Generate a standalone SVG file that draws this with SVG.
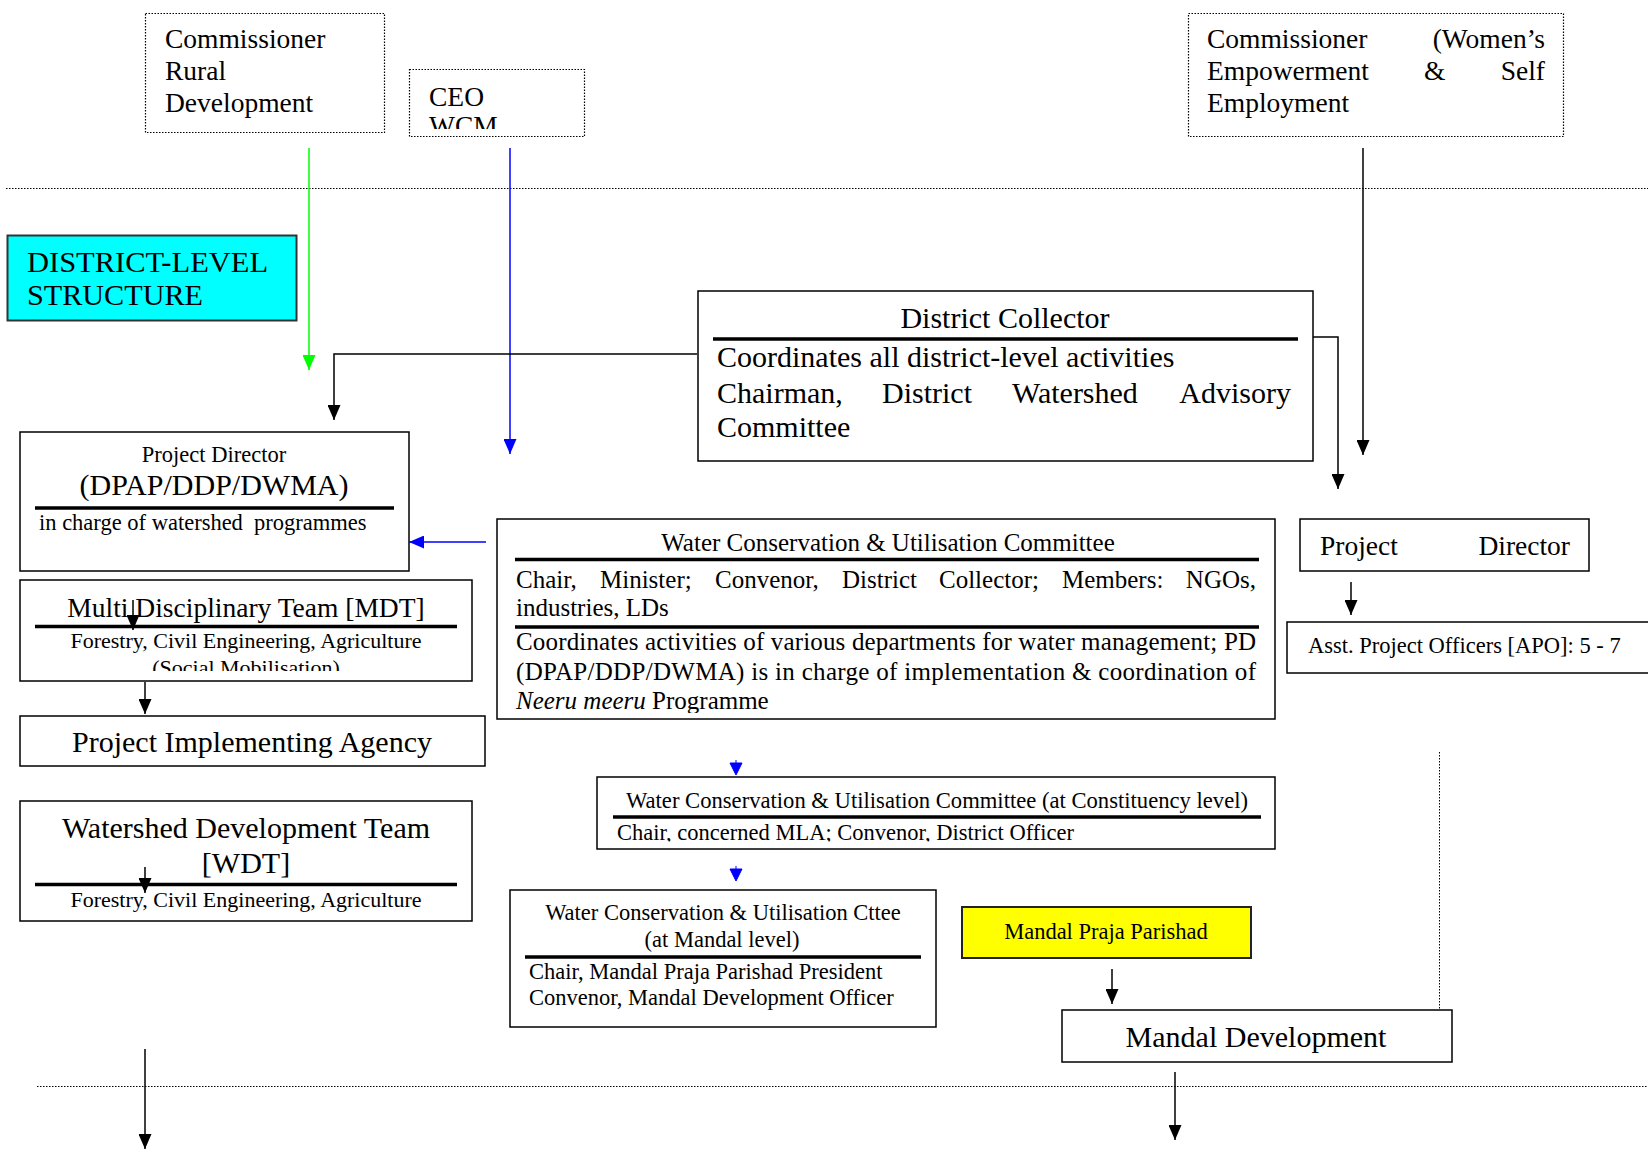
<svg xmlns="http://www.w3.org/2000/svg" width="1648" height="1151" viewBox="0 0 1648 1151">
<style>
.t{font-family:"Liberation Serif","Times New Roman",serif;fill:#000}
.box{fill:#fff;stroke:#000;stroke-width:1.5}
.dbox{fill:#fff;stroke:#000;stroke-width:1.2;stroke-dasharray:1.5 1.5}
.rule{stroke:#000;stroke-width:3.5}
.dot{stroke:#000;stroke-width:1;stroke-dasharray:1.5 1.5;fill:none}
.conn{stroke:#000;stroke-width:1.5;fill:none}
.s22{font-size:22.5px}
.s25{font-size:25px}
.s27{font-size:27.5px}
.s30{font-size:30px}
.mid{text-anchor:middle}
.end{text-anchor:end}
</style>
<defs>
<marker id="ak" viewBox="0 0 15 13" refX="15" refY="6.5" markerWidth="15" markerHeight="13" markerUnits="userSpaceOnUse" orient="auto"><path d="M0,0 L15,6.5 L0,13 z" fill="#000"/></marker>
<marker id="ab" viewBox="0 0 15 13" refX="15" refY="6.5" markerWidth="15" markerHeight="13" markerUnits="userSpaceOnUse" orient="auto"><path d="M0,0 L15,6.5 L0,13 z" fill="#0000ff"/></marker>
<marker id="ag" viewBox="0 0 15 13" refX="15" refY="6.5" markerWidth="15" markerHeight="13" markerUnits="userSpaceOnUse" orient="auto"><path d="M0,0 L15,6.5 L0,13 z" fill="#00ff00"/></marker>
<clipPath id="cCEO"><rect x="409" y="69" width="175" height="60"/></clipPath>
<clipPath id="cMDT"><rect x="20" y="580" width="452" height="91"/></clipPath>
<clipPath id="cWCUC"><rect x="497" y="519" width="778" height="194"/></clipPath>
<clipPath id="cCons"><rect x="597" y="777" width="678" height="64.5"/></clipPath>
</defs>
<rect width="1648" height="1151" fill="#fff"/>

<g id="separators">
<line class="dot" x1="6" y1="188.5" x2="1648" y2="188.5"/>
<line class="dot" x1="37" y1="1086.5" x2="1648" y2="1086.5"/>
<line class="dot" x1="1439.5" y1="752" x2="1439.5" y2="1010"/>
</g>

<g id="commissioner-rd">
<rect class="dbox" x="145.5" y="13.5" width="239" height="119"/>
<text class="t s27" x="165" y="48">Commissioner</text>
<text class="t s27" x="165" y="80">Rural</text>
<text class="t s27" x="165" y="112">Development</text>
</g>

<g id="ceo-wcm">
<rect class="dbox" x="409.5" y="69.5" width="175" height="67"/>
<text class="t s27" x="429" y="106">CEO</text>
<text class="t s27" x="429" y="135" clip-path="url(#cCEO)">WCM</text>
</g>

<g id="commissioner-women">
<rect class="dbox" x="1188.5" y="13.5" width="375" height="123"/>
<text class="t s27" x="1207" y="48">Commissioner</text>
<text class="t s27 end" x="1545" y="48">(Women’s</text>
<text class="t s27" x="1207" y="80">Empowerment</text>
<text class="t s27" x="1424" y="80">&amp;</text>
<text class="t s27 end" x="1545" y="80">Self</text>
<text class="t s27" x="1207" y="112">Employment</text>
</g>

<g id="district-level">
<rect x="7.5" y="235.5" width="289" height="85" fill="#00ffff" stroke="#333" stroke-width="2"/>
<text class="t s30" x="27" y="272" textLength="241" lengthAdjust="spacingAndGlyphs">DISTRICT-LEVEL</text>
<text class="t s30" x="27" y="305" textLength="176" lengthAdjust="spacingAndGlyphs">STRUCTURE</text>
</g>

<g id="district-collector">
<rect class="box" x="698" y="291" width="615" height="170"/>
<text class="t s30 mid" x="1005" y="328">District Collector</text>
<line class="rule" x1="713" y1="339" x2="1298" y2="339"/>
<text class="t s30" x="717" y="367">Coordinates all district-level activities</text>
<text class="t s30" y="403"><tspan x="717">Chairman,</tspan><tspan x="882">District</tspan><tspan x="1012">Watershed</tspan><tspan x="1291" text-anchor="end">Advisory</tspan></text>
<text class="t s30" x="717" y="437">Committee</text>
</g>

<g id="project-director-left">
<rect class="box" x="20" y="432" width="389" height="139"/>
<text class="t s22 mid" x="214" y="462">Project Director</text>
<text class="t s30 mid" x="214" y="495">(DPAP/DDP/DWMA)</text>
<line class="rule" x1="35" y1="508" x2="394" y2="508"/>
<text class="t s22" x="39" y="530" xml:space="preserve">in charge of watershed  programmes</text>
</g>

<g id="mdt">
<rect class="box" x="20" y="580" width="452" height="101"/>
<text class="t s27 mid" x="246" y="617">Multi Disciplinary Team [MDT]</text>
<line class="rule" x1="35" y1="626.5" x2="457" y2="626.5"/>
<text class="t mid" style="font-size:22px" x="246" y="648">Forestry, Civil Engineering, Agriculture</text>
<text class="t mid" style="font-size:22px" x="246" y="675" clip-path="url(#cMDT)">(Social Mobilisation)</text>
</g>

<g id="pia">
<rect class="box" x="20" y="716" width="465" height="50"/>
<text class="t s30 mid" x="252" y="752">Project Implementing Agency</text>
</g>

<g id="wdt">
<rect class="box" x="20" y="801" width="452" height="120"/>
<text class="t s30 mid" x="246" y="838">Watershed Development Team</text>
<text class="t s30 mid" x="246" y="873">[WDT]</text>
<line class="rule" x1="35" y1="884.5" x2="457" y2="884.5"/>
<text class="t mid" style="font-size:22px" x="246" y="907">Forestry, Civil Engineering, Agriculture</text>
</g>

<g id="wcuc">
<rect class="box" x="497" y="519" width="778" height="200"/>
<text class="t s25 mid" x="888" y="551">Water Conservation &amp; Utilisation Committee</text>
<line class="rule" x1="515" y1="559.5" x2="1259" y2="559.5"/>
<text class="t s25" y="588"><tspan x="516">Chair,</tspan><tspan x="600">Minister;</tspan><tspan x="715">Convenor,</tspan><tspan x="842">District</tspan><tspan x="939">Collector;</tspan><tspan x="1062">Members:</tspan><tspan x="1256" text-anchor="end">NGOs,</tspan></text>
<text class="t s25" x="516" y="616">industries, LDs</text>
<line class="rule" x1="515" y1="627" x2="1259" y2="627"/>
<text class="t s25" x="516" y="650" textLength="740" lengthAdjust="spacing">Coordinates activities of various departments for water management; PD</text>
<text class="t s25" x="516" y="680" textLength="740" lengthAdjust="spacing">(DPAP/DDP/DWMA) is in charge of implementation &amp; coordination of</text>
<text class="t s25" x="516" y="709" clip-path="url(#cWCUC)"><tspan font-style="italic">Neeru meeru</tspan> Programme</text>
</g>

<g id="project-director-right">
<rect class="box" x="1300" y="519" width="289" height="52"/>
<text class="t s27" x="1320" y="555">Project</text>
<text class="t s27 end" x="1570" y="555">Director</text>
</g>

<g id="apo">
<rect class="box" x="1287" y="622" width="380" height="51"/>
<text class="t s22" x="1308" y="653">Asst. Project Officers [APO]: 5 - 7</text>
</g>

<g id="wcuc-constituency">
<rect class="box" x="597" y="777" width="678" height="72"/>
<text class="t s22 mid" x="937" y="808" textLength="622" lengthAdjust="spacingAndGlyphs">Water Conservation &amp; Utilisation Committee (at Constituency level)</text>
<line class="rule" x1="613" y1="817" x2="1261" y2="817"/>
<text class="t s22" x="617" y="840" clip-path="url(#cCons)">Chair, concerned MLA; Convenor, District Officer</text>
</g>

<g id="wcuc-mandal">
<rect class="box" x="510" y="890" width="426" height="137"/>
<text class="t s22 mid" x="723" y="920">Water Conservation &amp; Utilisation Cttee</text>
<text class="t s22 mid" x="722" y="947">(at Mandal level)</text>
<line class="rule" x1="525" y1="957" x2="921" y2="957"/>
<text class="t s22" x="529" y="979">Chair, Mandal Praja Parishad President</text>
<text class="t s22" x="529" y="1005">Convenor, Mandal Development Officer</text>
</g>

<g id="mandal-praja-parishad">
<rect x="962" y="907" width="289" height="51" fill="#ffff00" stroke="#222" stroke-width="2"/>
<text class="t s22 mid" x="1106" y="939">Mandal Praja Parishad</text>
</g>

<g id="mandal-development">
<rect class="box" x="1062" y="1010" width="390" height="52"/>
<text class="t s30 mid" x="1256" y="1047">Mandal Development</text>
</g>

<g id="connectors">
<path d="M309,148 V370" stroke="#00ff00" stroke-width="1.5" fill="none" marker-end="url(#ag)"/>
<path d="M510,148 V454" stroke="#0000ff" stroke-width="1.5" fill="none" marker-end="url(#ab)"/>
<path d="M486,542 H409" stroke="#0000ff" stroke-width="1.5" fill="none" marker-end="url(#ab)"/>
<path class="conn" d="M1363,148 V455" marker-end="url(#ak)"/>
<path class="conn" d="M697,354 H334 V420" marker-end="url(#ak)"/>
<path class="conn" d="M1313,337 H1338 V489" marker-end="url(#ak)"/>
<path class="conn" d="M133,600 V630" marker-end="url(#ak)"/>
<path class="conn" d="M145,682 V714" marker-end="url(#ak)"/>
<path class="conn" d="M145,867 V893" marker-end="url(#ak)"/>
<path class="conn" d="M145,1049 V1149" marker-end="url(#ak)"/>
<path class="conn" d="M1351,582 V615" marker-end="url(#ak)"/>
<path class="conn" d="M1112,969 V1004" marker-end="url(#ak)"/>
<path class="conn" d="M1175,1072 V1140" marker-end="url(#ak)"/>
<path d="M736,760 V763 M730,763 H742 L736,775 Z" stroke="#0000ff" stroke-width="1" fill="#0000ff"/>
<path d="M736,866 V869 M730,869 H742 L736,881 Z" stroke="#0000ff" stroke-width="1" fill="#0000ff"/>
</g>
</svg>
